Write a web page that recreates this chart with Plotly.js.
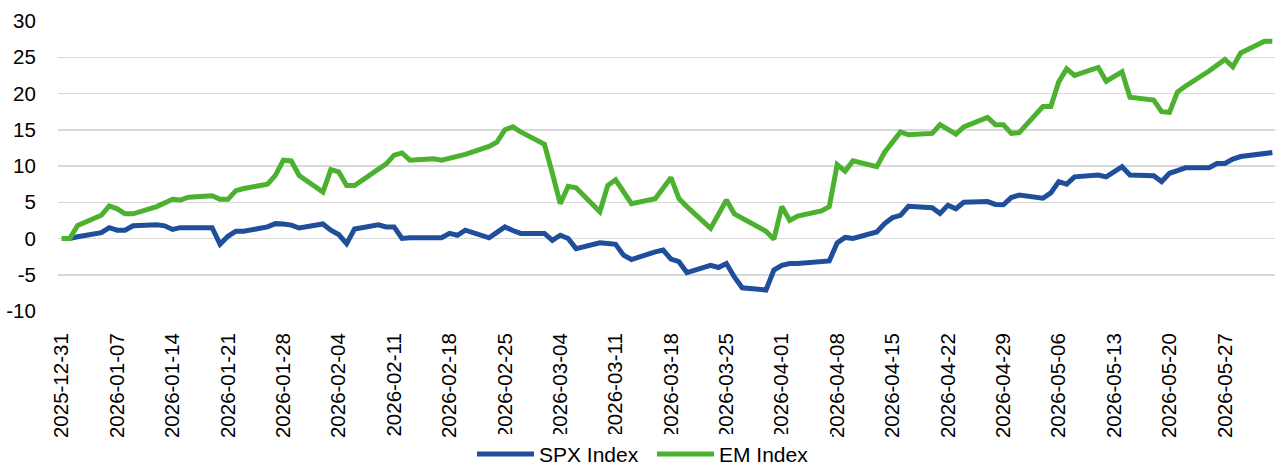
<!DOCTYPE html>
<html>
<head>
<meta charset="utf-8">
<script src="https://cdn.plot.ly/plotly-3.0.1.min.js"></script>
<style>
  html, body { margin: 0; padding: 0; background: #ffffff; }
  #chart { width: 1275px; height: 466px; }
</style>
</head>
<body>
<div id="chart"></div>
<script>
const dates = [
  '2025-12-31',
  '2026-01-01','2026-01-02','2026-01-05','2026-01-06','2026-01-07','2026-01-08','2026-01-09',
  '2026-01-12','2026-01-13','2026-01-14','2026-01-15','2026-01-16','2026-01-19','2026-01-20',
  '2026-01-21','2026-01-22','2026-01-23','2026-01-26','2026-01-27','2026-01-28','2026-01-29','2026-01-30',
  '2026-02-02','2026-02-03','2026-02-04','2026-02-05','2026-02-06','2026-02-09','2026-02-10',
  '2026-02-11','2026-02-12','2026-02-13','2026-02-16','2026-02-17','2026-02-18','2026-02-19','2026-02-20',
  '2026-02-23','2026-02-24','2026-02-25','2026-02-26','2026-02-27',
  '2026-03-02','2026-03-03','2026-03-04','2026-03-05','2026-03-06','2026-03-09','2026-03-10',
  '2026-03-11','2026-03-12','2026-03-13','2026-03-16','2026-03-17','2026-03-18','2026-03-19','2026-03-20',
  '2026-03-23','2026-03-24','2026-03-25','2026-03-26','2026-03-27','2026-03-30','2026-03-31',
  '2026-04-01','2026-04-02','2026-04-03','2026-04-06','2026-04-07','2026-04-08','2026-04-09','2026-04-10',
  '2026-04-13','2026-04-14','2026-04-15','2026-04-16','2026-04-17','2026-04-20','2026-04-21','2026-04-22',
  '2026-04-23','2026-04-24','2026-04-27','2026-04-28','2026-04-29','2026-04-30',
  '2026-05-01','2026-05-04','2026-05-05','2026-05-06','2026-05-07','2026-05-08','2026-05-11',
  '2026-05-12','2026-05-13','2026-05-14','2026-05-15','2026-05-18','2026-05-19','2026-05-20',
  '2026-05-21','2026-05-22','2026-05-25','2026-05-26','2026-05-27','2026-05-28','2026-05-29',
  '2026-06-01','2026-06-02'
];

const spx = [
  0,
  0, 0.25, 0.8, 1.5, 1.15, 1.15, 1.75,
  1.9, 1.75, 1.25, 1.5, 1.5, 1.5, -0.8,
  0.3, 1.0, 1.0, 1.6, 2.05, 2.0, 1.85, 1.45,
  2.0, 1.15, 0.55, -0.7, 1.3, 1.9, 1.6,
  1.6, 0, 0.1, 0.1, 0.1, 0.7, 0.45, 1.15,
  0.1, 0.85, 1.6, 1.1, 0.7,
  0.7, -0.25, 0.45, 0, -1.4, -0.6, -0.7,
  -0.8, -2.3, -2.9, -1.85, -1.6, -2.85, -3.2, -4.7,
  -3.7, -4.0, -3.45, -5.3, -6.8, -7.1, -4.35,
  -3.7, -3.45, -3.45, -3.1, -3.1, -0.6, 0.15, 0,
  0.9, 2.05, 2.9, 3.2, 4.45, 4.25, 3.45, 4.6,
  4.1, 5.0, 5.1, 4.7, 4.65, 5.65,
  6.0, 5.55, 6.3, 7.85, 7.5, 8.5, 8.75,
  8.5, 9.2, 9.9, 8.75, 8.65, 7.85, 9.0,
  9.35, 9.75, 9.75, 10.35, 10.35, 10.95, 11.3,
  11.6, 11.85
];

const em = [
  0,
  0, 1.8, 3.2, 4.5, 4.1, 3.4, 3.4,
  4.4, 4.9, 5.4, 5.3, 5.7, 5.9, 5.4,
  5.4, 6.6, 6.9, 7.5, 8.7, 10.8, 10.7, 8.7,
  6.4, 9.5, 9.2, 7.3, 7.3, 9.5, 10.3,
  11.5, 11.8, 10.8, 11.0, 10.8, 11.1, 11.3, 11.6,
  12.7, 13.3, 15.0, 15.4, 14.7,
  13.0, 9.0, 4.8, 7.2, 7.0, 3.7, 7.3,
  8.1, 6.3, 4.8, 5.5, 7.0, 8.4, 5.5, 4.4,
  1.4, 3.5, 5.3, 3.4, 2.8, 1.0, -0.1,
  4.4, 2.5, 3.1, 3.8, 4.4, 10.2, 9.3, 10.7,
  9.9, 11.9, 13.2, 14.7, 14.3, 14.5, 15.7, 15.0,
  14.4, 15.4, 16.7, 15.7, 15.7, 14.5,
  14.6, 18.2, 18.2, 21.6, 23.4, 22.5, 23.6,
  21.7, 22.3, 23.0, 19.5, 19.1, 17.5, 17.4,
  20.2, 21.0, 23.1, 23.8, 24.7, 23.7, 25.6,
  27.2, 27.2
];

const seriesNames = ['SPX Index', 'EM Index'];
const yTicks = [-10, -5, 0, 5, 10, 15, 20, 25, 30];

const FONT = 'Liberation Sans, Arial, sans-serif';

const traces = [
  {
    x: dates, y: spx, name: seriesNames[0], type: 'scatter', mode: 'lines',
    line: { color: '#1f4e9a', width: 5 }
  },
  {
    x: dates, y: em, name: seriesNames[1], type: 'scatter', mode: 'lines',
    line: { color: '#4bb12f', width: 5 }
  }
];

const layout = {
  width: 1275, height: 466,
  margin: { l: 58, r: 0, t: 21, b: 155 },
  paper_bgcolor: '#ffffff', plot_bgcolor: '#ffffff',
  font: { family: FONT, size: 20, color: '#000000' },
  showlegend: true,
  legend: {
    orientation: 'h',
    xref: 'container', x: 472 / 1275, xanchor: 'left',
    yref: 'container', y: 0.025, yanchor: 'middle',
    font: { family: FONT, size: 21, color: '#000000' },
    itemwidth: 57, entrywidth: 108, tracegroupgap: 0
  },
  xaxis: {
    type: 'date',
    range: ['2025-12-30 12:30', '2026-06-02 08:00'],
    tick0: '2025-12-31', dtick: 7 * 86400000,
    tickformat: '%Y-%m-%d', tickangle: -90,
    ticks: 'outside', ticklen: 13, tickcolor: 'rgba(0,0,0,0)',
    showgrid: false, zeroline: false, showline: false,
    tickfont: { family: FONT, size: 20.5, color: '#000000' }
  },
  yaxis: {
    range: [-10, 30], tickvals: yTicks, ticktext: yTicks.map(String),
    showgrid: true, gridcolor: '#d9d9d9', gridwidth: 1.5,
    zeroline: false, showline: false,
    ticks: 'outside', ticklen: 17, tickcolor: 'rgba(0,0,0,0)',
    tickfont: { family: FONT, size: 20.5, color: '#000000' }
  }
};

Plotly.newPlot('chart', traces, layout, { staticPlot: true, displayModeBar: false });
</script>
</body>
</html>
